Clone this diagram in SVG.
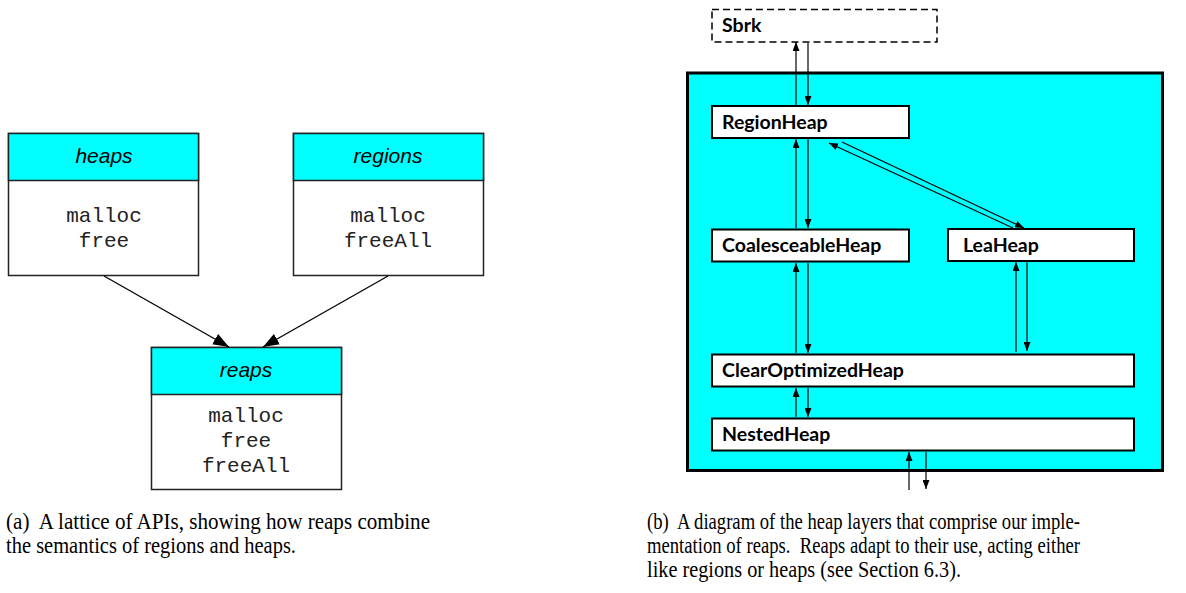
<svg xmlns="http://www.w3.org/2000/svg" width="1186" height="593" viewBox="0 0 1186 593">
  <style>
    .api { fill: #ffffff; stroke: #222; stroke-width: 1.5; }
    .apihead { fill: #00ffff; stroke: #222; stroke-width: 1.5; }
    .apititle { font-family: "Liberation Sans", Arial, sans-serif; font-style: italic; font-size: 21px; text-anchor: middle; fill: #000; }
    .apifn { font-family: "Liberation Mono", "Courier New", monospace; font-size: 21px; text-anchor: middle; fill: #222; }
    .layer { fill: #ffffff; stroke: #000; stroke-width: 2; }
    .layertxt { font-family: Lato, "DejaVu Sans", sans-serif; font-weight: bold; font-size: 19.5px; fill: #000; }
    .caption { font-family: "Liberation Serif", "Times New Roman", serif; font-size: 22.5px; fill: #000; }
    .edge { stroke: #000; stroke-width: 1.3; fill: none; }
    .thin { stroke: #000; stroke-width: 1.2; fill: none; }
  </style>
  <defs>
    <marker id="bigArrow" viewBox="0 0 16 12" refX="16" refY="6" markerWidth="16" markerHeight="12" markerUnits="userSpaceOnUse" orient="auto">
      <path d="M0,0 L16,6 L0,12 Z" fill="#000"/>
    </marker>
    <marker id="smallArrow" viewBox="0 0 9 7" refX="9" refY="3.5" markerWidth="9" markerHeight="7" markerUnits="userSpaceOnUse" orient="auto">
      <path d="M0,0 L9,3.5 L0,7 Z" fill="#000"/>
    </marker>
  </defs>

  <rect width="1186" height="593" fill="#ffffff"/>

  <!-- (a) API lattice -->
  <g id="heaps">
    <rect class="api" x="8.5" y="133.5" width="190" height="142"/>
    <rect class="apihead" x="8.5" y="133.5" width="190" height="47"/>
    <text class="apititle" x="104" y="163">heaps</text>
    <text class="apifn" x="104" y="222">malloc</text>
    <text class="apifn" x="104" y="247">free</text>
  </g>
  <g id="regions">
    <rect class="api" x="293.5" y="133.5" width="190" height="142"/>
    <rect class="apihead" x="293.5" y="133.5" width="190" height="47"/>
    <text class="apititle" x="388" y="163">regions</text>
    <text class="apifn" x="388" y="222">malloc</text>
    <text class="apifn" x="388" y="247">freeAll</text>
  </g>
  <g id="reaps">
    <rect class="api" x="151.5" y="347.5" width="190" height="142"/>
    <rect class="apihead" x="151.5" y="347.5" width="190" height="47"/>
    <text class="apititle" x="246" y="377">reaps</text>
    <text class="apifn" x="246" y="422">malloc</text>
    <text class="apifn" x="246" y="447">free</text>
    <text class="apifn" x="246" y="472">freeAll</text>
  </g>
  <g id="lattice-edges">
    <line class="edge" x1="104" y1="276" x2="229" y2="347" marker-end="url(#bigArrow)"/>
    <line class="edge" x1="388" y1="276" x2="263" y2="347" marker-end="url(#bigArrow)"/>
  </g>

  <!-- (b) heap layers -->
  <g id="sbrk">
    <rect x="712" y="9.5" width="225" height="32.5" fill="#ffffff" stroke="#000" stroke-width="1.5" stroke-dasharray="7,4"/>
    <text class="layertxt" x="722" y="32">Sbrk</text>
  </g>
  <g id="reap-container">
    <rect x="687.5" y="73" width="475" height="397.5" fill="#00ffff" stroke="#000" stroke-width="3"/>
  </g>
  <g id="region-heap">
    <rect class="layer" x="712" y="106" width="197" height="32"/>
    <text class="layertxt" x="722" y="129">RegionHeap</text>
  </g>
  <g id="coalesceable-heap">
    <rect class="layer" x="712" y="229.5" width="197" height="32"/>
    <text class="layertxt" x="722" y="252">CoalesceableHeap</text>
  </g>
  <g id="lea-heap">
    <rect class="layer" x="948" y="229" width="186" height="32"/>
    <text class="layertxt" x="963" y="252">LeaHeap</text>
  </g>
  <g id="clear-optimized-heap">
    <rect class="layer" x="712" y="354.5" width="422" height="32"/>
    <text class="layertxt" x="722" y="377">ClearOptimizedHeap</text>
  </g>
  <g id="nested-heap">
    <rect class="layer" x="712" y="418.5" width="422" height="32"/>
    <text class="layertxt" x="722" y="441">NestedHeap</text>
  </g>

  <g id="layer-edges">
    <!-- Sbrk <-> RegionHeap -->
    <line class="thin" x1="796" y1="105" x2="796" y2="42" marker-end="url(#smallArrow)"/>
    <line class="thin" x1="808" y1="43" x2="808" y2="105" marker-end="url(#smallArrow)"/>
    <!-- RegionHeap <-> CoalesceableHeap -->
    <line class="thin" x1="796" y1="228" x2="796" y2="139" marker-end="url(#smallArrow)"/>
    <line class="thin" x1="808" y1="139" x2="808" y2="228" marker-end="url(#smallArrow)"/>
    <!-- RegionHeap <-> LeaHeap -->
    <line class="thin" x1="1013" y1="228" x2="829" y2="143" marker-end="url(#smallArrow)"/>
    <line class="thin" x1="842" y1="142" x2="1024" y2="228" marker-end="url(#smallArrow)"/>
    <!-- CoalesceableHeap <-> ClearOptimizedHeap -->
    <line class="thin" x1="796" y1="353" x2="796" y2="263" marker-end="url(#smallArrow)"/>
    <line class="thin" x1="808" y1="263" x2="808" y2="353" marker-end="url(#smallArrow)"/>
    <!-- LeaHeap <-> ClearOptimizedHeap -->
    <line class="thin" x1="1016" y1="352" x2="1016" y2="262" marker-end="url(#smallArrow)"/>
    <line class="thin" x1="1027" y1="262" x2="1027" y2="351" marker-end="url(#smallArrow)"/>
    <!-- ClearOptimizedHeap <-> NestedHeap -->
    <line class="thin" x1="796" y1="417" x2="796" y2="388" marker-end="url(#smallArrow)"/>
    <line class="thin" x1="808" y1="388" x2="808" y2="417" marker-end="url(#smallArrow)"/>
    <!-- NestedHeap <-> client -->
    <line class="thin" x1="909" y1="490" x2="909" y2="452" marker-end="url(#smallArrow)"/>
    <line class="thin" x1="926" y1="452" x2="926" y2="489" marker-end="url(#smallArrow)"/>
  </g>

  <!-- captions -->
  <g id="caption-a">
    <text class="caption" x="6" y="529" textLength="424" lengthAdjust="spacingAndGlyphs">(a)&#160; A lattice of APIs, showing how reaps combine</text>
    <text class="caption" x="6" y="553" textLength="290" lengthAdjust="spacingAndGlyphs">the semantics of regions and heaps.</text>
  </g>
  <g id="caption-b">
    <text class="caption" x="647" y="529" textLength="433" lengthAdjust="spacingAndGlyphs">(b)&#160; A diagram of the heap layers that comprise our imple-</text>
    <text class="caption" x="647" y="553" textLength="433" lengthAdjust="spacingAndGlyphs">mentation of reaps.&#160; Reaps adapt to their use, acting either</text>
    <text class="caption" x="647" y="577" textLength="314" lengthAdjust="spacingAndGlyphs">like regions or heaps (see Section 6.3).</text>
  </g>
</svg>
